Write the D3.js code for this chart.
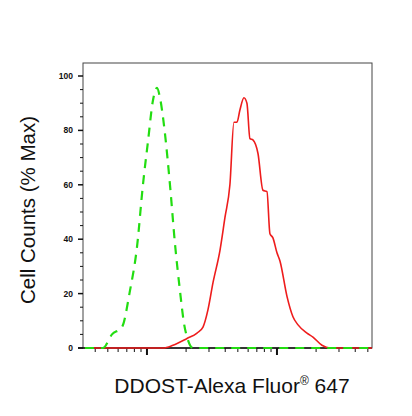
<!DOCTYPE html>
<html>
<head>
<meta charset="utf-8">
<script src="https://cdn.jsdelivr.net/npm/d3@7"></script>
<style>
  body { margin:0; background:#fff; }
  text { font-family: "Liberation Sans", Arial, sans-serif; }
</style>
</head>
<body>
<svg id="chart" width="412" height="416"></svg>
<script>
// log10 of fluorescence intensity, and % of max counts
var isotypeLog = [0.523,0.662,0.731,0.808,0.869,0.923,0.969,1.008,1.046,1.077,1.100,1.138,1.177,1.215,1.254,1.285,1.315,1.354,2.731];
var isotypePct = [0,0,5,7.7,21,37,60,76,91,95.6,92,79,60,38.6,21,9,3,0,0];
var stainLog = [0.523,1.123,1.200,1.308,1.385,1.431,1.469,1.508,1.562,1.600,1.638,1.669,1.692,1.715,1.746,1.769,1.792,1.815,1.854,1.892,1.923,1.946,1.969,2.0,2.023,2.077,2.123,2.162,2.231,2.277,2.346,2.408,2.731];
var stainPct = [0,0,1,3.5,5.5,7.7,14,24,36,48,60,83,83,87.5,92,90,77,76.5,71.5,58,57.5,42,40.5,35,32,19,11.5,8.5,5.5,4,1,0,0];
var yTicks = [0,20,40,60,80,100];

var svg = d3.select('#chart');
var plotL = 83, plotR = 372, plotT = 63, plotB = 348;

var x = d3.scaleLog().domain([Math.pow(10,0.508), Math.pow(10,2.731)]).range([plotL, plotR]);
var y = d3.scaleLinear().domain([0, 100]).range([plotB, 76]);

// frame
svg.append('rect').attr('x', plotL).attr('y', plotT).attr('width', plotR-plotL).attr('height', plotB-plotT)
  .attr('fill','none').attr('stroke','#444').attr('stroke-width',1);

// y ticks
var minorY = d3.range(0, 101, 5);
svg.selectAll('.ym').data(minorY).enter().append('line')
  .attr('x1', plotL).attr('x2', function(d){ return d%20===0 ? plotL-5 : plotL-3; })
  .attr('y1', function(d){return y(d);}).attr('y2', function(d){return y(d);})
  .attr('stroke','#111').attr('stroke-width', function(d){ return d%20===0 ? 1.5 : 1; });
svg.selectAll('.yl').data(yTicks).enter().append('text')
  .attr('x', plotL-10).attr('y', function(d){return y(d)+3;})
  .attr('text-anchor','end').attr('font-size', 8.5).attr('font-weight','bold').attr('fill','#111')
  .text(function(d){return d;});

// bottom axis line and log ticks (no labels)
svg.append('line').attr('x1', plotL-5).attr('x2', plotR).attr('y1', plotB).attr('y2', plotB)
  .attr('stroke','#111').attr('stroke-width',1.5);
var xt = x.ticks().filter(function(d){ return d >= x.domain()[0] && d <= x.domain()[1]; });
svg.selectAll('.xm').data(xt).enter().append('line')
  .attr('x1', function(d){return x(d);}).attr('x2', function(d){return x(d);})
  .attr('y1', plotB).attr('y2', function(d){ return Math.abs(Math.log10(d)%1) < 1e-6 ? plotB+7 : plotB+4; })
  .attr('stroke','#111').attr('stroke-width', function(d){ return Math.abs(Math.log10(d)%1) < 1e-6 ? 2 : 1; });

var line = d3.line().curve(d3.curveMonotoneX)
  .x(function(d){return x(Math.pow(10,d[0]));}).y(function(d){return y(d[1]);});

svg.append('path').datum(d3.zip(stainLog, stainPct)).attr('d', line)
  .attr('fill','none').attr('stroke','#ee1c1c').attr('stroke-width',1.6);
svg.append('path').datum(d3.zip(isotypeLog, isotypePct)).attr('d', line)
  .attr('fill','none').attr('stroke','#22dd11').attr('stroke-width',2.2).attr('stroke-dasharray','9,7');

// axis titles
svg.append('text').attr('transform','translate(35,210) rotate(-90)')
  .attr('text-anchor','middle').attr('font-size',20.5).attr('fill','#111').text('Cell Counts (% Max)');
var xl = svg.append('text').attr('x', 232).attr('y', 393).attr('text-anchor','middle')
  .attr('font-size',21).attr('fill','#111');
xl.append('tspan').text('DDOST-Alexa Fluor');
xl.append('tspan').attr('font-size',12).attr('dy',-8).text('®');
xl.append('tspan').attr('dy',8).text(' 647');
</script>
</body>
</html>
